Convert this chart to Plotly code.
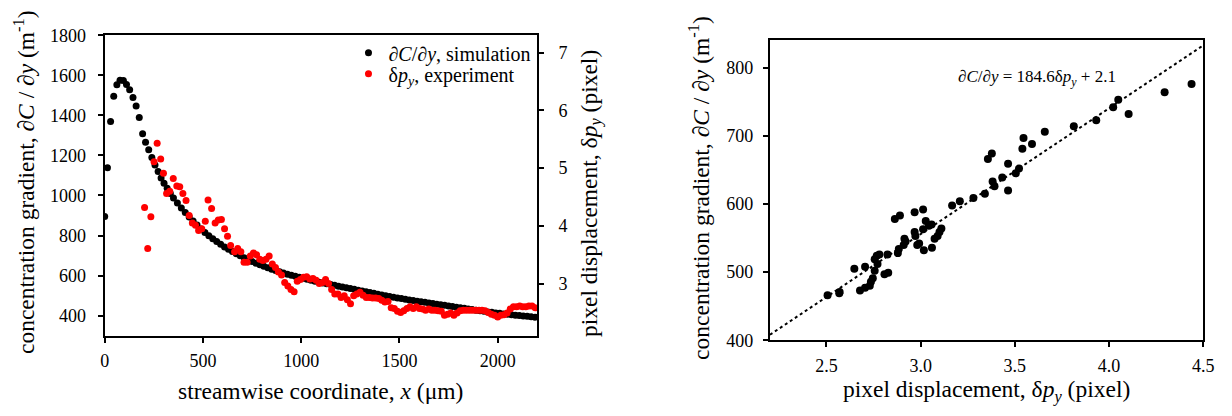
import plotly.graph_objects as go

# ---------------- data: left panel ----------------
sim_x = [0, 14, 30, 46, 62, 78, 95, 111, 127, 144, 160, 176, 193, 208, 224, 240, 256, 272, 287, 302, 318,
         334, 350, 370, 390, 410, 430, 450, 470, 490, 510, 530, 550, 570, 590, 610, 630, 650, 670, 690,
         710, 730, 750, 770, 790, 810, 830, 850, 870, 890, 910, 930, 950, 970, 990, 1010, 1030, 1050,
         1070, 1090, 1110, 1130, 1150, 1170, 1190, 1210, 1230, 1250, 1270, 1290, 1310, 1330, 1350,
         1370, 1390, 1410, 1430, 1450, 1470, 1490, 1510, 1530, 1550, 1570, 1590, 1610, 1630, 1650,
         1670, 1690, 1710, 1730, 1750, 1770, 1790, 1810, 1830, 1850, 1870, 1890, 1910, 1930, 1950,
         1970, 1990, 2010, 2030, 2050, 2070, 2090, 2110, 2130, 2150, 2170, 2190]
sim_grad = [895, 1139, 1370, 1496, 1553, 1576, 1575, 1555, 1528, 1490, 1447, 1390, 1308, 1266, 1229, 1190,
            1152, 1120, 1088, 1061, 1036,
            1010, 988, 962, 938, 915, 893, 872, 852, 833, 815, 799, 784, 770, 756, 743, 731, 720, 709, 699,
            689, 679, 670, 662, 654, 646, 639, 632, 625, 619, 613, 607, 601, 596, 591, 586, 581, 576,
            572, 567, 563, 559, 555, 551, 547, 543, 539, 535, 531, 527, 523, 519, 515,
            511, 507, 503, 499, 495, 492, 488, 485, 482, 478, 475, 472, 469, 466, 463,
            460, 457, 454, 451, 448, 445, 442, 439, 436, 433, 430, 427, 424, 421, 418,
            416, 413, 411, 408, 406, 404, 402, 400, 398, 396, 394, 392]

exp_x = [203, 219, 235, 251, 267, 285, 299, 315, 331, 349, 367, 382, 398, 414, 430, 446, 462, 478, 494, 512,
         526, 544, 562, 578, 594, 610, 625, 641, 661, 677, 693, 709, 725, 741, 757, 773, 789, 805, 821, 837,
         853, 869, 884, 900, 916, 932, 948, 964, 980, 996, 1012, 1028, 1044, 1060, 1076, 1092, 1108, 1124,
         1139, 1155, 1171, 1187, 1203, 1219, 1235, 1251, 1267, 1283, 1299, 1315, 1331, 1347, 1363, 1379,
         1395, 1410, 1426, 1442, 1458, 1474, 1490, 1506, 1522, 1538, 1554, 1570, 1586, 1602, 1618, 1633,
         1649, 1665, 1681, 1697, 1713, 1729, 1745, 1761, 1777, 1793, 1809, 1825, 1841, 1857, 1873, 1889,
         1905, 1920, 1936, 1952, 1968, 1984, 2000, 2016, 2032, 2048, 2064, 2080, 2096, 2112, 2127, 2143,
         2159, 2175, 2191]
exp_dp = [4.32, 3.61, 4.16, 5.11, 5.43, 5.16, 4.91, 4.56, 4.60, 4.82, 4.69, 4.68, 4.56, 4.44, 4.18, 4.05,
          4.01, 3.92, 3.95, 4.08, 4.45, 4.30, 4.05, 4.10, 4.11, 3.95, 3.82, 3.66, 3.55, 3.61, 3.55, 3.37,
          3.37, 3.48, 3.53, 3.50, 3.42, 3.40, 3.42, 3.48, 3.34, 3.28, 3.20, 3.15, 3.02, 2.96, 2.90, 2.86,
          3.04, 3.07, 3.11, 3.12, 3.08, 3.09, 3.06, 3.00, 3.02, 3.07, 3.00, 2.90, 2.82, 2.82, 2.76, 2.79,
          2.72, 2.65, 2.79, 2.82, 2.85, 2.80, 2.76, 2.76, 2.75, 2.75, 2.74, 2.71, 2.68, 2.69, 2.58, 2.57,
          2.52, 2.50, 2.53, 2.57, 2.60, 2.57, 2.60, 2.57, 2.56, 2.54, 2.56, 2.54, 2.54, 2.53, 2.52, 2.45,
          2.47, 2.49, 2.45, 2.49, 2.53, 2.54, 2.54, 2.54, 2.54, 2.54, 2.54, 2.54, 2.53, 2.50, 2.47, 2.45,
          2.42, 2.45, 2.46, 2.49, 2.56, 2.60, 2.60, 2.61, 2.60, 2.60, 2.61, 2.61, 2.58]

# ---------------- data: right panel ----------------
corr_dp = [2.506, 2.568, 2.57, 2.648, 2.678, 2.705, 2.705, 2.73, 2.736, 2.746, 2.756, 2.756, 2.767, 2.771,
           2.781, 2.808, 2.828, 2.824, 2.879, 2.884, 2.863, 2.89, 2.91, 2.914, 2.92, 2.968, 2.968, 2.972,
           2.982, 2.992, 3.013, 3.017, 3.013, 3.027, 3.044, 3.058, 3.06, 3.074, 3.09, 3.10, 3.11, 3.167,
           3.208, 3.28, 3.341, 3.357, 3.378, 3.382, 3.392, 3.433, 3.464, 3.464, 3.505, 3.522, 3.54, 3.546,
           3.591, 3.659, 3.813, 3.932, 4.022, 4.049, 4.104, 4.295, 4.438]
corr_grad = [466, 469, 471, 505, 473, 508, 477, 480, 486, 491, 502, 519, 524, 512,
             526, 497, 499, 526, 528, 534, 578, 583, 540, 549, 545, 588, 559, 553,
             540, 542, 592, 532, 563, 575, 568, 570, 536, 549, 553, 559, 564, 598,
             604, 609, 615, 666, 674, 633, 626, 639, 659, 620, 645, 652, 681, 697,
             688, 706, 714, 723, 742, 753, 732, 764, 776]
fit_slope = 184.6
fit_intercept = 2.1
fit_x = [2.2, 4.5]
fit_y = [fit_slope * v + fit_intercept for v in fit_x]

left_xticks = [0, 500, 1000, 1500, 2000]
left_yticks = [400, 600, 800, 1000, 1200, 1400, 1600, 1800]
right_axis_ticks = [3, 4, 5, 6, 7]
corr_xticks = [2.5, 3.0, 3.5, 4.0, 4.5]
corr_yticks = [400, 500, 600, 700, 800]

FONT = "Liberation Serif"
W, H = 1232, 416

fig = go.Figure()
fig.add_trace(go.Scatter(x=sim_x, y=sim_grad, mode="markers", xaxis="x", yaxis="y",
                         marker=dict(color="black", size=7), legend="legend",
                         name="<i>∂C</i>/<i>∂y</i>, simulation"))
fig.add_trace(go.Scatter(x=exp_x, y=exp_dp, mode="markers", xaxis="x", yaxis="y2",
                         marker=dict(color="#ff0000", size=7), legend="legend2",
                         name="δ<i>p<sub>y</sub></i>, experiment"))
fig.add_trace(go.Scatter(x=fit_x, y=fit_y, mode="lines", xaxis="x2", yaxis="y3",
                         line=dict(color="black", width=2, dash="3px,3px"), showlegend=False))
fig.add_trace(go.Scatter(x=corr_dp, y=corr_grad, mode="markers", xaxis="x2", yaxis="y3",
                         marker=dict(color="black", size=8), showlegend=False))

axis_common = dict(showgrid=False, zeroline=False, showline=True, linecolor="black", linewidth=2,
                   ticks="outside", ticklen=5, tickwidth=2, tickcolor="black",
                   tickfont=dict(family=FONT, size=18, color="black"))

legend_common = dict(xanchor="left", yanchor="middle", bgcolor="rgba(0,0,0,0)",
                     font=dict(family=FONT, size=20, color="black"), itemwidth=30)

fig.update_layout(
    width=W, height=H, margin=dict(l=0, r=0, t=0, b=0),
    paper_bgcolor="white", plot_bgcolor="white",
    font=dict(family=FONT, color="black"),
    xaxis=dict(domain=[101 / W, 539 / W], range=[0, 2200], tickvals=left_xticks, anchor="y",
               mirror=True, ticklabelstandoff=3, **axis_common),
    yaxis=dict(domain=[1 - 342 / H, 1 - 26.7 / H], range=[300, 1800], tickvals=left_yticks, anchor="x",
               ticklabelstandoff=8, **axis_common),
    yaxis2=dict(domain=[1 - 342 / H, 1 - 26.7 / H], range=[2.1, 7.3], tickvals=right_axis_ticks,
                overlaying="y", side="right", anchor="x", ticklabelstandoff=11, **axis_common),
    xaxis2=dict(domain=[775 / W, 1214 / W], range=[2.2, 4.5], tickvals=corr_xticks, tickformat=".1f",
                anchor="y3", mirror=True, ticklabelstandoff=3, **axis_common),
    yaxis3=dict(domain=[1 - 347 / H, 1 - 32 / H], range=[400, 840], tickvals=corr_yticks, anchor="x2",
                mirror=True, ticklabelstandoff=6, **axis_common),
    legend=dict(x=348 / W, y=1 - 45 / H, **legend_common),
    legend2=dict(x=348 / W, y=1 - 67 / H, **legend_common),
    showlegend=True,
)

title_font = dict(family=FONT, size=23.5, color="black")
annotations = [
    dict(text="concentration gradient, <i>∂C</i> / <i>∂y</i> (m<sup>-1</sup>)", x=20 / W, y=1 - 181 / H,
         textangle=-90),
    dict(text="pixel displacement, δ<i>p<sub>y</sub></i> (pixel)", x=593 / W, y=1 - 193 / H, textangle=-90),
    dict(text="streamwise coordinate, <i>x</i> (μm)", x=320 / W, y=1 - 400 / H, textangle=0),
    dict(text="pixel displacement, δ<i>p<sub>y</sub></i> (pixel)", x=994 / W, y=1 - 400 / H, textangle=0),
    dict(text="concentration gradient, <i>∂C</i> / <i>∂y</i> (m<sup>-1</sup>)", x=703 / W, y=1 - 187 / H,
         textangle=-90),
]
for a in annotations:
    fig.add_annotation(xref="paper", yref="paper", showarrow=False, xanchor="center", yanchor="middle",
                       font=title_font, **a)

fig.add_annotation(xref="paper", yref="paper", x=964 / W, y=1 - 71.7 / H, xanchor="left", yanchor="middle",
                   showarrow=False, font=dict(family=FONT, size=17, color="black"),
                   text="<i>∂C</i>/<i>∂y</i> = 184.6δ<i>p<sub>y</sub></i> + 2.1")

page_css = ("document.documentElement.style.margin='0';document.documentElement.style.padding='0';"
            "document.body.style.margin='0';document.body.style.padding='0';"
            "document.body.style.overflow='hidden';")
fig.write_html("out.html", post_script=page_css, config={"displayModeBar": False})
